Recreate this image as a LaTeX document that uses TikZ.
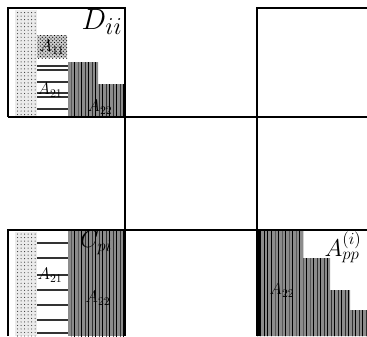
\documentclass[tikz,border=0pt]{standalone}
\usepackage{amsmath}
\usetikzlibrary{patterns}

\tikzset{
  blockline/.style={line width=1.5pt},
  dotcol/.style={fill=black!8, postaction={pattern=dots, pattern color=black!80}},
  checker/.style={fill=black!45, postaction={pattern=vertical lines}},
  lightchecker/.style={fill=black!20, postaction={pattern=crosshatch dots}},
  barline/.style={line width=2.2pt, black!80},
}

\begin{document}
\begin{tikzpicture}[x=0.03cm,y=-0.03cm]
\useasboundingbox (0,0) rectangle (367,336);
\def\L{8}\def\R{125}\def\M{257}
% top-left block: D_ii
\fill[dotcol] (15,10) rectangle (37,116);
\fill[lightchecker] (37,35) rectangle (67,58);
\foreach \y in {66,70,82,93,97,109} \draw[barline] (37,\y) -- (68,\y);
\fill[checker] (68,62) -- (98,62) -- (98,84) -- (\R,84) -- (\R,117) -- (68,117) -- cycle;
\node[font=\Huge] (Dii) at (102,22) {$D_{ii}$};
\node[font=\Large] (A11) at (52,47) {$A_{11}$};
\node[font=\Large] (A21) at (50,90) {$A_{21}$};
\node[font=\Large] (A22) at (100,107) {$A_{22}$};
% bottom-left block: C_pi
\fill[dotcol] (15,232) rectangle (37,336);
\foreach \y in {243,258,275,290,305,320,333} \draw[barline] (37,\y) -- (68,\y);
\fill[checker] (68,231) rectangle (\R,336);
\node[font=\huge] (Cpi) at (96,243) {$C_{pi}$};
\node[font=\Large] (A21b) at (50,275) {$A_{21}$};
\node[font=\Large] (A22b) at (98,298) {$A_{22}$};
% bottom-right block: A_pp^(i)
\fill[checker] (\M,231) -- (303,231) -- (303,258) -- (330,258) -- (330,290)
  -- (350,290) -- (350,310) -- (367,310) -- (367,336) -- (\M,336) -- cycle;
\fill (\M,231) rectangle (261,336);
\node[font=\huge] (App) at (343,247) {$A^{(i)}_{pp}$};
\node[font=\Large] (A22c) at (282,290) {$A_{22}$};
% block borders
\draw[blockline] (\L,117) -- (\L,8) -- (\R,8) -- (\R,336);
\draw[blockline] (367,8) -- (\M,8) -- (\M,336);
\draw[blockline] (\L,117) -- (367,117);
\draw[blockline] (\L,336) -- (\L,230) -- (367,230);
\end{tikzpicture}
\end{document}
